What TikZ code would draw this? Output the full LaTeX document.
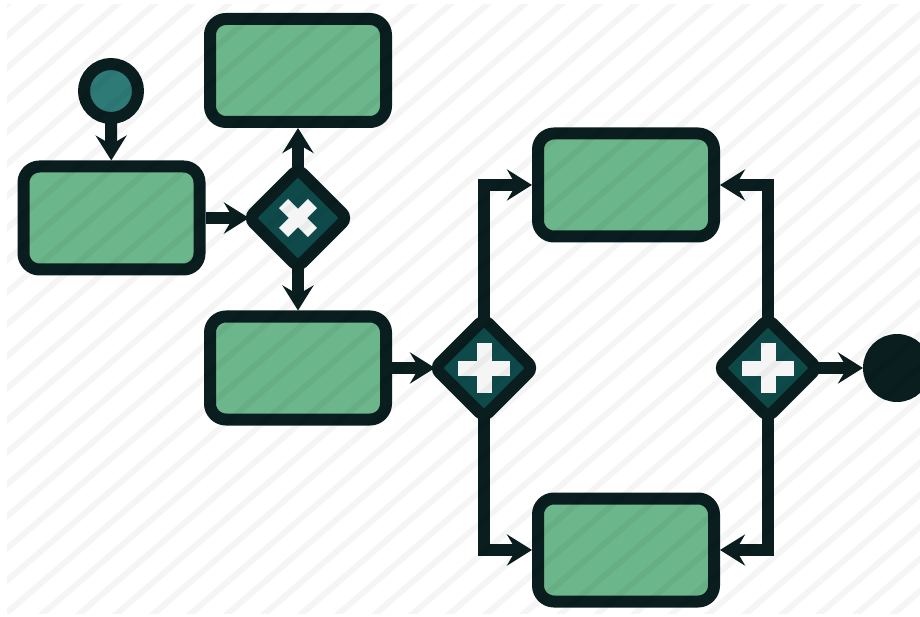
\documentclass[tikz,border=0pt]{standalone}
\usetikzlibrary{arrows.meta,shapes.geometric}
\definecolor{dk}{HTML}{0A1E1F}
\definecolor{gr}{HTML}{6CB68B}
\definecolor{gt}{HTML}{0E4A4A}
\definecolor{stc}{HTML}{2D7A77}
\definecolor{crossc}{HTML}{F5F5F5}
\pgfdeclarelayer{bg}
\pgfdeclarelayer{fg}
\pgfsetlayers{bg,main,fg}
\tikzset{
  task/.style={draw=dk, fill=gr, line width=12pt, rounded corners=16pt,
    minimum width=176pt, minimum height=103pt, inner sep=0pt},
  gate/.style={diamond, aspect=1, draw=dk, fill=gt, line width=12pt,
    rounded corners=7pt, minimum width=98pt, minimum height=98pt,
    inner sep=0pt, outer sep=0pt},
  startev/.style={circle, draw=dk, fill=stc, line width=12pt,
    minimum size=54pt, inner sep=0pt},
  endev/.style={circle, draw=dk, fill=dk, line width=12pt,
    minimum size=56pt, inner sep=0pt},
  flow/.style={draw=dk, line width=12pt,
    -{Stealth[length=25pt,width=31pt,inset=9pt]}},
  stripe/.style={black, opacity=0.04, line width=6pt}
}
\begin{document}
\begin{tikzpicture}[x=1pt,y=-1pt]
\useasboundingbox (0,0) rectangle (920,617);
% nodes
\node[startev] (start) at (111,91) {};
\node[task] (box1) at (111.5,218) {};
\node[task] (boxT) at (298,70.5) {};
\node[gate] (d1) at (298,218) {};
\node[task] (box2) at (298,368) {};
\node[gate] (d2) at (484,368) {};
\node[task] (boxTR) at (626,185) {};
\node[task] (boxBR) at (626,550) {};
\node[gate] (d3) at (768,368) {};
\node[endev] (endn) at (897,368) {};
% gateway markers
\begin{scope}[shift={(d1.center)},rotate=45]
  \fill[crossc] (-20.5,-6.5) rectangle (20.5,6.5);
  \fill[crossc] (-6.5,-20.5) rectangle (6.5,20.5);
\end{scope}
\foreach \g in {d2,d3}{
  \begin{scope}[shift={(\g.center)}]
    \fill[crossc] (-26,-7.5) rectangle (26,7.5);
    \fill[crossc] (-7.5,-25) rectangle (7.5,25);
  \end{scope}
}
% background and connectors
\begin{pgfonlayer}{bg}
  \fill[white] (0,0) rectangle (920,617);
  \draw[flow] (start.center) -- (box1);
  \draw[flow] (box1) -- (d1);
  \draw[flow] (d1.center) -- (boxT);
  \draw[flow] (d1.center) -- (box2);
  \draw[flow] (box2) -- (d2);
  \draw[flow] (d2.center) |- (boxTR);
  \draw[flow] (d2.center) |- (boxBR);
  \draw[flow] (d3.center) |- (boxTR);
  \draw[flow] (d3.center) |- (boxBR);
  \draw[flow] (d3.center) -- (endn);
\end{pgfonlayer}
% stripes overlay
\begin{pgfonlayer}{fg}
  \begin{scope}
    \clip (7,5) rectangle (920,613);
    \foreach \i in {-22,...,26}{
      \draw[stripe] ({12.4+37*\i},640) -- ({12.4+37*\i+762},-20);
    }
  \end{scope}
\end{pgfonlayer}
\end{tikzpicture}
\end{document}
